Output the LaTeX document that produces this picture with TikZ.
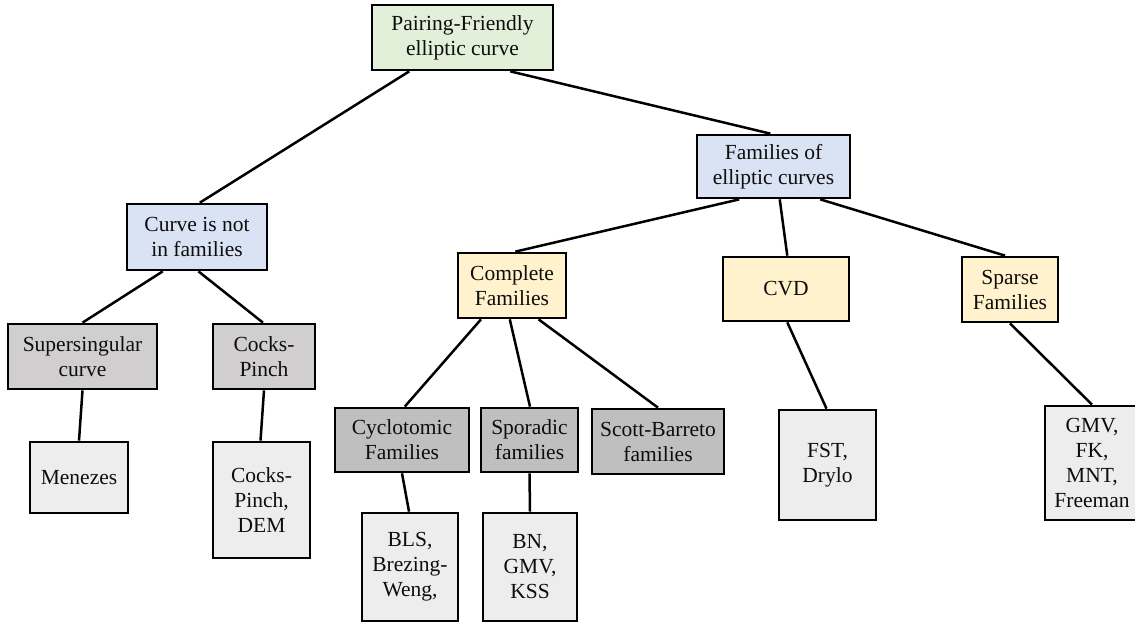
\documentclass[tikz,border=0pt]{standalone}
\usepackage{fontspec}
\setmainfont{Liberation Serif}
\usetikzlibrary{calc}
\definecolor{cgreen}{HTML}{E2EFD9}
\definecolor{cblue}{HTML}{DAE3F3}
\definecolor{cyellow}{HTML}{FFF2CC}
\definecolor{cgraya}{HTML}{D0CECE}
\definecolor{cgrayb}{HTML}{BFBFBF}
\definecolor{cleaf}{HTML}{EDEDED}
\definecolor{ctext}{HTML}{0D0D0D}
\tikzset{
  box/.style={draw=black, line width=2.7pt, rectangle, inner sep=0pt, align=center,
    text=ctext, font=\fontsize{21.5}{25}\selectfont},
  link/.style={draw=black, line width=2.5pt},
}
\newcommand{\bx}[8]{% name, fill, x1, y1, x2, y2, text, (unused)
  \node[box, fill=#2, minimum width={#5-#3}, minimum height={#6-#4}] (#1) at ({(#3+#5)/2},{(#4+#6)/2}) {#7};}
\begin{document}
\begin{tikzpicture}[x=1pt,y=-1pt]
\useasboundingbox (0,0) rectangle (1135,623);
\clip (0,0) rectangle (1135,623);
\bx{root}{cgreen}{372}{5}{553}{70}{Pairing-Friendly\\elliptic curve}{}
\bx{fam}{cblue}{697}{135}{850}{198}{Families of\\elliptic curves}{}
\bx{notin}{cblue}{127}{204}{267}{270}{Curve is not\\in families}{}
\bx{super}{cgraya}{8}{324}{157}{389}{Supersingular\\curve}{}
\bx{cp}{cgraya}{213}{324}{315}{389}{Cocks-\\Pinch}{}
\bx{men}{cleaf}{30}{442}{128}{513}{Menezes}{}
\bx{cpd}{cleaf}{213}{442}{310}{558}{Cocks-\\Pinch,\\DEM}{}
\bx{comp}{cyellow}{458}{253}{566}{318}{Complete\\Families}{}
\bx{cvd}{cyellow}{723}{257}{849}{321}{CVD}{}
\bx{sparse}{cyellow}{962}{257}{1058}{322}{Sparse\\Families}{}
\bx{cyc}{cgrayb}{335}{408}{469}{472}{Cyclotomic\\Families}{}
\bx{spor}{cgrayb}{481}{408}{578}{472}{Sporadic\\families}{}
\bx{scott}{cgrayb}{592}{409}{724}{474}{Scott-Barreto\\families}{}
\bx{bls}{cleaf}{362}{513}{458}{621}{BLS,\\Brezing-\\Weng,}{}
\bx{bn}{cleaf}{483}{513}{577}{621}{BN,\\GMV,\\KSS}{}
\bx{fst}{cleaf}{779}{410}{876}{520}{FST,\\Drylo}{}
\bx{gmv}{cleaf}{1045}{406}{1139}{520}{GMV,\\FK,\\MNT,\\Freeman}{}
% connectors
\draw[link] ($(root.south west)!0.21!(root.south east)$) -- ($(notin.north west)!0.52!(notin.north east)$);
\draw[link] ($(root.south west)!0.76!(root.south east)$) -- ($(fam.north west)!0.48!(fam.north east)$);
\draw[link] ($(notin.south west)!0.26!(notin.south east)$) -- (super.north);
\draw[link] ($(notin.south west)!0.51!(notin.south east)$) -- ($(cp.north west)!0.49!(cp.north east)$);
\draw[link] (super.south) -- ($(men.north west)!0.5!(men.north east)$);
\draw[link] (cp.south) -- ($(cpd.north west)!0.49!(cpd.north east)$);
\draw[link] ($(fam.south west)!0.28!(fam.south east)$) -- ($(comp.north west)!0.53!(comp.north east)$);
\draw[link] ($(fam.south west)!0.54!(fam.south east)$) -- ($(cvd.north west)!0.51!(cvd.north east)$);
\draw[link] ($(fam.south west)!0.80!(fam.south east)$) -- ($(sparse.north west)!0.45!(sparse.north east)$);
\draw[link] ($(comp.south west)!0.22!(comp.south east)$) -- ($(cyc.north west)!0.52!(cyc.north east)$);
\draw[link] ($(comp.south west)!0.48!(comp.south east)$) -- ($(spor.north west)!0.505!(spor.north east)$);
\draw[link] ($(comp.south west)!0.74!(comp.south east)$) -- (scott.north);
\draw[link] (cyc.south) -- ($(bls.north west)!0.49!(bls.north east)$);
\draw[link] (spor.south) -- (bn.north);
\draw[link] ($(cvd.south west)!0.51!(cvd.south east)$) -- ($(fst.north west)!0.49!(fst.north east)$);
\draw[link] (sparse.south) -- (gmv.north);
\end{tikzpicture}
\end{document}
